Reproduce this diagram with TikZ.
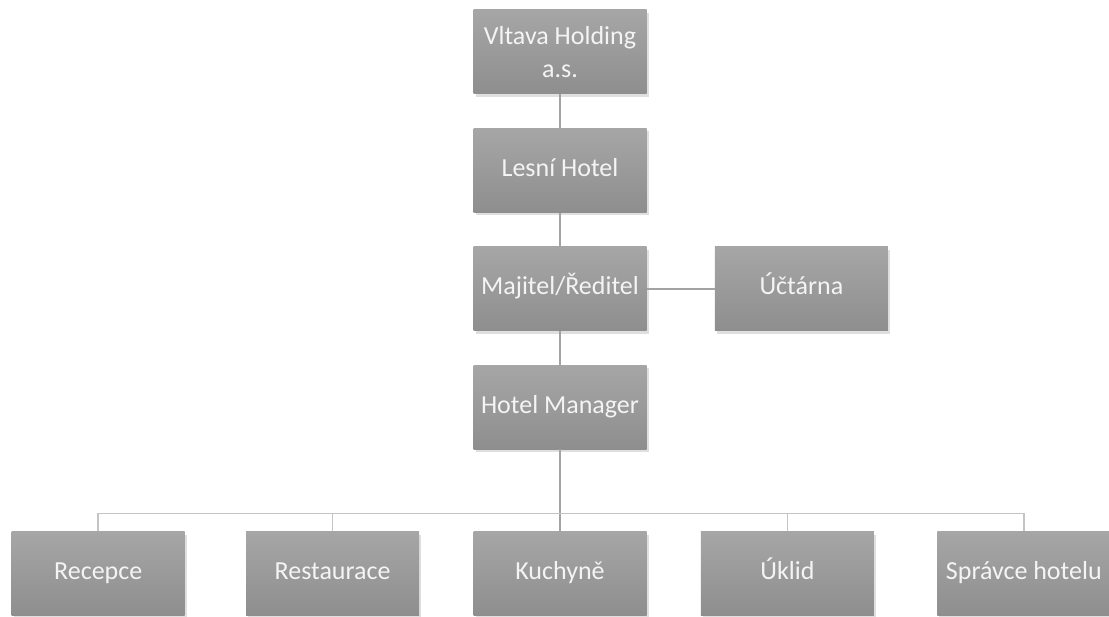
\documentclass[tikz,border=0pt]{standalone}
\usepackage{fontspec}
\setmainfont{Carlito}
\usetikzlibrary{positioning,shadows}
\definecolor{boxtop}{HTML}{A6A6A6}
\definecolor{boxbot}{HTML}{8E8E8E}
\definecolor{boxtext}{HTML}{F4F4F4}
\definecolor{linkgray}{HTML}{A3A3A3}
\definecolor{busgray}{HTML}{C4C4C4}

\begin{document}
\begin{tikzpicture}[x=1pt,y=1pt,node distance=34pt,unit/.style={top color=boxtop,bottom color=boxbot,text=boxtext,minimum width=173pt,minimum height=84pt,align=center,inner sep=3pt,text height=18pt,text depth=6pt,font=\fontsize{26}{33}\selectfont,drop shadow={shadow xshift=2pt,shadow yshift=-3pt,opacity=0.25}},link/.style={draw=linkgray,line width=1.6pt},bus/.style={draw=busgray,line width=1.6pt}]
    \useasboundingbox (0,0) rectangle (1109,-617);
    \node[unit,text height=,text depth=] at (560,-52) (vh) {Vltava Holding\\a.s.};
    \node[unit,below=of vh] (lh) {Lesní Hotel};
    \node[unit,below=of lh] (mr) {Majitel/Ředitel};
    \node[unit,right=68pt of mr] (uc) {Účtárna};
    \node[unit,below=of mr] (hm) {Hotel Manager};
    \node[unit,below=82pt of hm] (ku) {Kuchyně};
    \node[unit,left=54pt of ku] (rs) {Restaurace};
    \node[unit,left=61pt of rs] (rc) {Recepce};
    \node[unit,right=54pt of ku] (uk) {Úklid};
    \node[unit,right=63pt of uk] (sh) {Správce hotelu};
    \coordinate[above=18pt of ku.north] (bus);
    \draw[link] (vh)--(lh); \draw[link] (lh)--(mr); \draw[link] (mr)--(hm); \draw[link] (mr)--(uc);
    \draw[link] (hm)--(bus); \draw[link] (bus)--(ku);
    \foreach \n in {rc,rs,uk,sh} \draw[bus] (\n.north)--(\n.north |- bus)--(bus);
  \end{tikzpicture}
\end{document}
